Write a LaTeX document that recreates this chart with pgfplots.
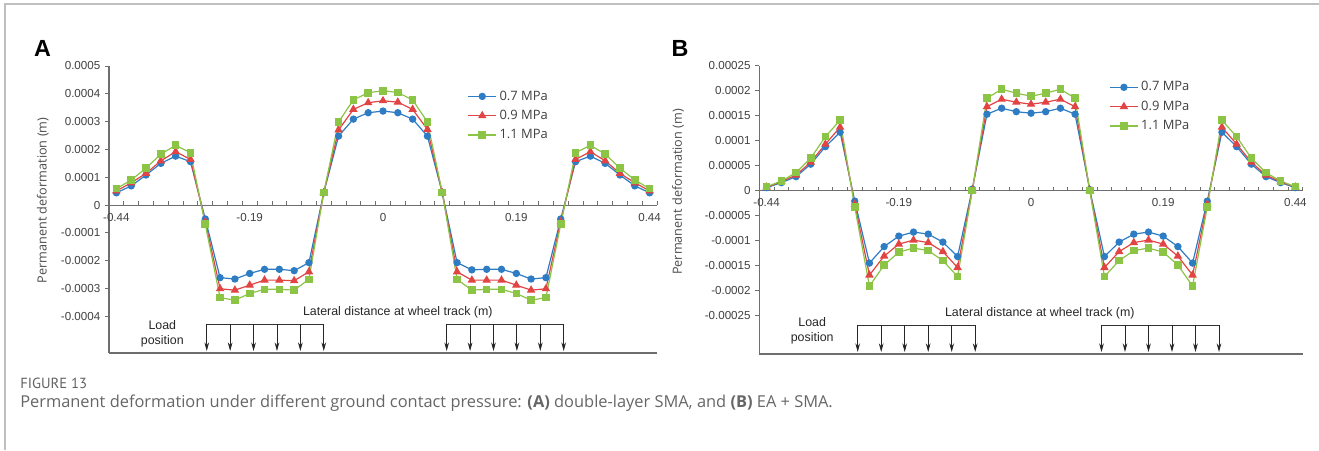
\documentclass[border=0pt]{standalone}
\usepackage{fontspec}
\setmainfont{Liberation Sans}
\newfontfamily\os{Open Sans}
\newfontfamily\ptsans{PT Sans}
\usepackage{pgfplots}
\usepackage{pgfplotstable}
\pgfplotsset{compat=1.18}
\usetikzlibrary{arrows.meta}
\definecolor{cb}{RGB}{46,125,196}
\definecolor{cr}{RGB}{226,68,68}
\definecolor{cg}{RGB}{140,196,70}
\definecolor{axg}{RGB}{110,110,110}
\tikzset{ar/.style={black!85, line width=0.6pt, -{Stealth[length=6.5pt,width=3.5pt]}}}

\pgfplotstableread{
x b r g
0 0.000044 0.000051 0.000059
1 0.000069 0.000080 0.000090
2 0.000108 0.000114 0.000133
3 0.000150 0.000159 0.000183
4 0.000176 0.000192 0.000215
5 0.000156 0.000164 0.000188
6 -0.000050 -0.000060 -0.000069
7 -0.000261 -0.000301 -0.000333
8 -0.000266 -0.000306 -0.000342
9 -0.000246 -0.000288 -0.000318
10 -0.000231 -0.000270 -0.000303
11 -0.000231 -0.000270 -0.000303
12 -0.000236 -0.000272 -0.000306
13 -0.000207 -0.000240 -0.000267
14 0.000044 0.000045 0.000045
15 0.000248 0.000270 0.000299
16 0.000309 0.000344 0.000378
17 0.000332 0.000368 0.000404
18 0.000338 0.000375 0.000411
19 0.000332 0.000370 0.000405
20 0.000309 0.000344 0.000378
21 0.000248 0.000272 0.000299
22 0.000044 0.000045 0.000045
23 -0.000207 -0.000240 -0.000267
24 -0.000233 -0.000270 -0.000306
25 -0.000231 -0.000270 -0.000303
26 -0.000231 -0.000270 -0.000303
27 -0.000246 -0.000288 -0.000318
28 -0.000266 -0.000306 -0.000342
29 -0.000261 -0.000301 -0.000333
30 -0.000050 -0.000060 -0.000069
31 0.000156 0.000164 0.000188
32 0.000176 0.000192 0.000215
33 0.000150 0.000159 0.000183
34 0.000108 0.000114 0.000133
35 0.000069 0.000080 0.000090
36 0.000044 0.000051 0.000059
}\dataA

\pgfplotstableread{
x b r g
0 0.000006 0.000007 0.000008
1 0.000016 0.000018 0.000019
2 0.000028 0.000031 0.000036
3 0.000053 0.000057 0.000065
4 0.000088 0.000093 0.000108
5 0.000117 0.000127 0.000141
6 -0.000021 -0.000027 -0.000033
7 -0.000145 -0.000169 -0.000191
8 -0.000112 -0.000131 -0.000149
9 -0.000091 -0.000107 -0.000123
10 -0.000083 -0.000099 -0.000115
11 -0.000087 -0.000104 -0.000120
12 -0.000103 -0.000122 -0.000140
13 -0.000132 -0.000154 -0.000172
14 0.000003 0.000001 0.000000
15 0.000153 0.000168 0.000185
16 0.000165 0.000183 0.000203
17 0.000158 0.000177 0.000195
18 0.000155 0.000173 0.000189
19 0.000158 0.000177 0.000195
20 0.000165 0.000183 0.000203
21 0.000153 0.000168 0.000185
22 0.000002 0.000001 0.000000
23 -0.000132 -0.000154 -0.000172
24 -0.000103 -0.000122 -0.000140
25 -0.000087 -0.000104 -0.000120
26 -0.000083 -0.000099 -0.000115
27 -0.000091 -0.000107 -0.000123
28 -0.000112 -0.000131 -0.000149
29 -0.000145 -0.000169 -0.000191
30 -0.000021 -0.000027 -0.000033
31 0.000117 0.000127 0.000141
32 0.000088 0.000093 0.000108
33 0.000053 0.000057 0.000065
34 0.000028 0.000031 0.000036
35 0.000016 0.000018 0.000019
36 0.000006 0.000007 0.000008
}\dataB

\pgfplotsset{
  common/.style={
    scale only axis, clip=false,
    xmin=-0.5, xmax=36.5,
    axis x line=middle, axis y line=left,
    axis line style={-, draw=axg, line width=0.8pt},
    xtick={0,9,18,27,36},
    xticklabels={-0.44,-0.19,0,0.19,0.44},
    major x tick style={draw=none},
    minor xtick={-0.5,0.5,...,36.5},
    minor x tick style={draw=axg, line width=0.6pt},
    minor tick length=3pt,
    xtick align=inside,
    ytick align=outside,
    major y tick style={draw=axg, line width=0.6pt},
    major tick length=3pt,
    scaled y ticks=false,
    tick label style={font=\fontsize{8.7}{10}\selectfont, text=black!75},
    xticklabel style={yshift=-2.5pt},
    legend cell align=left,
    legend style={draw=none, fill=none, inner sep=0pt,
      font=\os\fontsize{9.7}{11}\selectfont, text=black!75,
      nodes={inner ysep=1.5pt, inner xsep=2pt, text height=7.5pt, text depth=2pt},
      row sep=2pt},
    legend image code/.code={\draw[mark repeat=2,mark phase=2] plot coordinates {(0pt,0pt) (10.5pt,0pt) (21pt,0pt)};},
  },
  sb/.style={color=cb, line width=0.9pt, mark=*, mark size=2.3pt, mark options={fill=cb, draw=cb}},
  sr/.style={color=cr, line width=0.9pt, mark=triangle*, mark size=2.8pt, mark options={fill=cr, draw=cr}},
  sg/.style={color=cg, line width=0.9pt, mark=square*, mark size=2.4pt, mark options={fill=cg, draw=cg}},
}

\begin{document}
\begin{tikzpicture}
\begin{scope}[x=0.75pt,y=-0.75pt]
\path[use as bounding box] (0,0) rectangle (1319,450);
\draw[black!25, line width=0.8pt] (5,450) -- (5,4) -- (1319,4);
\node[font=\bfseries\fontsize{17.5}{20}\selectfont] at (42.5,48.5) {A};
\node[font=\bfseries\fontsize{17.5}{20}\selectfont] at (680,48.5) {B};
\node[rotate=90, font=\os\fontsize{9.5}{11}\selectfont, text=black!70] at (42.7,200.5) {Permanent deformation (m)};
\node[rotate=90, font=\os\fontsize{9.5}{11}\selectfont, text=black!70] at (678,192) {Permanent deformation (m)};
\node[anchor=west, inner sep=0pt, font=\ptsans\fontsize{11}{13}\selectfont, text=black!62] at (20,383) {FIGURE 13};
\node[anchor=west, inner sep=0pt, font=\os\fontsize{12.3}{14}\selectfont, text=black!60] at (20,403) {Permanent deformation under different ground contact pressure: \textbf{(A)} double-layer SMA, and \textbf{(B)} EA + SMA.};
\end{scope}

% Panel A
\begin{axis}[common,
  at={(81.75pt,-264.75pt)}, anchor=south west,
  width=411pt, height=215.25pt,
  ymin=-0.000532, ymax=0.0005,
  ytick={-0.0004,-0.0003,-0.0002,-0.0001,0,0.0001,0.0002,0.0003,0.0004,0.0005},
  yticklabels={-0.0004,-0.0003,-0.0002,-0.0001,0,0.0001,0.0002,0.0003,0.0004,0.0005},
  legend style={at={(0.654,0.924)}, anchor=north west},
]
\addplot[sb] table[x=x,y=b] {\dataA};
\addplot[sr] table[x=x,y=r] {\dataA};
\addplot[sg] table[x=x,y=g] {\dataA};
\legend{0.7 MPa,0.9 MPa,1.1 MPa}
\draw[axg, line width=0.8pt] (rel axis cs:0,0) -- (rel axis cs:1,0);
\node[font=\fontsize{9.3}{11}\selectfont, text=black!85] at (axis cs:19,-0.000384) {Lateral distance at wheel track (m)};
\node[align=center, font=\fontsize{9.3}{11.5}\selectfont, text=black!85] at (axis cs:3.1,-0.000464) {Load\\position};
\draw[black!80, line width=0.6pt] (axis cs:6.1,-0.000428) -- (axis cs:14.0,-0.000428);
\draw[black!80, line width=0.6pt] (axis cs:22.3,-0.000428) -- (axis cs:30.2,-0.000428);
\draw[ar] (axis cs:6.1,-0.000428) -- (axis cs:6.1,-0.000525);
\draw[ar] (axis cs:7.68,-0.000428) -- (axis cs:7.68,-0.000525);
\draw[ar] (axis cs:9.26,-0.000428) -- (axis cs:9.26,-0.000525);
\draw[ar] (axis cs:10.84,-0.000428) -- (axis cs:10.84,-0.000525);
\draw[ar] (axis cs:12.42,-0.000428) -- (axis cs:12.42,-0.000525);
\draw[ar] (axis cs:14.0,-0.000428) -- (axis cs:14.0,-0.000525);
\draw[ar] (axis cs:22.3,-0.000428) -- (axis cs:22.3,-0.000525);
\draw[ar] (axis cs:23.88,-0.000428) -- (axis cs:23.88,-0.000525);
\draw[ar] (axis cs:25.46,-0.000428) -- (axis cs:25.46,-0.000525);
\draw[ar] (axis cs:27.04,-0.000428) -- (axis cs:27.04,-0.000525);
\draw[ar] (axis cs:28.62,-0.000428) -- (axis cs:28.62,-0.000525);
\draw[ar] (axis cs:30.2,-0.000428) -- (axis cs:30.2,-0.000525);
\end{axis}

% Panel B
\begin{axis}[common,
  at={(569.475pt,-265.5pt)}, anchor=south west,
  width=407.55pt, height=216.2pt,
  ymin=-0.000327, ymax=0.00025,
  ytick={-0.00025,-0.0002,-0.00015,-0.0001,-0.00005,0,0.00005,0.0001,0.00015,0.0002,0.00025},
  yticklabels={-0.00025,-0.0002,-0.00015,-0.0001,-0.00005,0,0.00005,0.0001,0.00015,0.0002,0.00025},
  legend style={at={(0.6436,0.955)}, anchor=north west},
]
\addplot[sb] table[x=x,y=b] {\dataB};
\addplot[sr] table[x=x,y=r] {\dataB};
\addplot[sg] table[x=x,y=g] {\dataB};
\legend{0.7 MPa,0.9 MPa,1.1 MPa}
\draw[axg, line width=0.8pt] (rel axis cs:0,0) -- (rel axis cs:1,0);
\node[font=\fontsize{9.3}{11}\selectfont, text=black!85] at (axis cs:18.6,-0.000245) {Lateral distance at wheel track (m)};
\node[align=center, font=\fontsize{9.3}{11.5}\selectfont, text=black!85] at (axis cs:3.1,-0.000281) {Load\\position};
\draw[black!80, line width=0.6pt] (axis cs:6.2,-0.000269) -- (axis cs:14.2,-0.000269);
\draw[black!80, line width=0.6pt] (axis cs:22.8,-0.000269) -- (axis cs:30.8,-0.000269);
\draw[ar] (axis cs:6.2,-0.000269) -- (axis cs:6.2,-0.000323);
\draw[ar] (axis cs:7.8,-0.000269) -- (axis cs:7.8,-0.000323);
\draw[ar] (axis cs:9.4,-0.000269) -- (axis cs:9.4,-0.000323);
\draw[ar] (axis cs:11.0,-0.000269) -- (axis cs:11.0,-0.000323);
\draw[ar] (axis cs:12.6,-0.000269) -- (axis cs:12.6,-0.000323);
\draw[ar] (axis cs:14.2,-0.000269) -- (axis cs:14.2,-0.000323);
\draw[ar] (axis cs:22.8,-0.000269) -- (axis cs:22.8,-0.000323);
\draw[ar] (axis cs:24.4,-0.000269) -- (axis cs:24.4,-0.000323);
\draw[ar] (axis cs:26.0,-0.000269) -- (axis cs:26.0,-0.000323);
\draw[ar] (axis cs:27.6,-0.000269) -- (axis cs:27.6,-0.000323);
\draw[ar] (axis cs:29.2,-0.000269) -- (axis cs:29.2,-0.000323);
\draw[ar] (axis cs:30.8,-0.000269) -- (axis cs:30.8,-0.000323);
\end{axis}
\end{tikzpicture}
\end{document}
